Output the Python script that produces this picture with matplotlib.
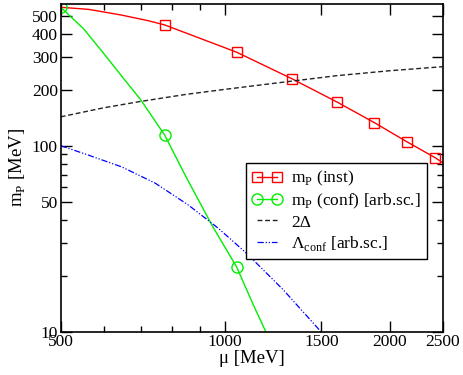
import matplotlib
matplotlib.use("Agg")
import matplotlib.pyplot as plt
from matplotlib.ticker import FixedLocator, NullFormatter

# m_P (inst): marker points and the curve through them
inst_mu = [775, 1050, 1325, 1600, 1875, 2150, 2425]
inst_m = [446, 318, 229, 172, 133, 105, 86]
inst_curve_mu = [500, 562, 646, 723, 775, 1050, 1325, 1600, 1875, 2150, 2425, 2500]
inst_curve_m = [555, 541, 504, 470, 446, 318, 229, 172, 133, 105, 86, 81]

# m_P (conf) [arb.sc.]
conf_mu = [500, 775, 1050]
conf_m = [555, 114, 22.2]
conf_curve_mu = [500, 550, 600, 650, 700, 775, 850, 950, 1050, 1125, 1200]
conf_curve_m = [555, 427, 312, 232, 177, 114, 67, 36.5, 22.2, 14, 9.3]

# 2 Delta
gap_mu = [500, 600, 700, 850, 1000, 1300, 1600, 2000, 2500]
gap_val = [143, 160, 173, 189, 201, 221, 238, 253, 266]

# Lambda_conf [arb.sc.]
lam_mu = [500, 562, 646, 744, 856, 971, 1094, 1277, 1479, 1500]
lam_val = [100, 89, 77, 63, 48, 36, 26.4, 16.8, 10.4, 9.9]

x_major = [500, 1000, 1500, 2000, 2500]
x_minor = [600, 700, 800, 900]
y_major = [10, 50, 100, 200, 300, 400, 500]
y_minor = [20, 30, 40, 60, 70, 80, 90]

plt.rcParams["font.family"] = ["Liberation Serif", "DejaVu Serif"]
plt.rcParams["mathtext.fontset"] = "custom"
plt.rcParams["mathtext.rm"] = "Liberation Serif"
plt.rcParams["font.size"] = 12.5

fig = plt.figure(figsize=(4.63, 3.75), dpi=100)
ax = fig.add_axes([60.7 / 463, (375 - 331.7) / 375, 382 / 463, 327.7 / 375])

red = "#ff0000"
green = "#00ee00"

ax.plot(inst_curve_mu, inst_curve_m, color=red, lw=1.0)
ax.plot(inst_mu, inst_m, ls="none", marker="s", ms=7.5, mfc="none", mec=red, mew=1.0)
ax.plot(conf_curve_mu, conf_curve_m, color=green, lw=1.0)
ax.plot(conf_mu, conf_m, ls="none", marker="o", ms=8, mfc="none", mec=green, mew=1.0)
ax.plot(gap_mu, gap_val, color="#222222", lw=1.0, dashes=(3.5, 2))
ax.plot(lam_mu, lam_val, color="#0000ff", lw=0.9, dashes=(5, 1.5, 1, 1.5, 1, 1.5))

# legend proxies
h1, = ax.plot([], [], color=red, lw=1.0, marker="s", ms=7.5, mfc="none", mec=red)
h2, = ax.plot([], [], color=green, lw=1.0, marker="o", ms=8, mfc="none", mec=green)
h3, = ax.plot([], [], color="#222222", lw=1.0, dashes=(3.5, 2))
h4, = ax.plot([], [], color="#0000ff", lw=0.9, dashes=(5, 1.5, 1, 1.5, 1, 1.5))
leg = ax.legend([h1, h2, h3, h4],
                [r"m$_\mathrm{P}$ (inst)", r"m$_\mathrm{P}$ (conf) [arb.sc.]",
                 "2Δ", r"Λ$_\mathrm{conf}$ [arb.sc.]"],
                loc="upper left", bbox_to_anchor=(0.485, 0.515), numpoints=2,
                fancybox=False, framealpha=1, edgecolor="black", borderaxespad=0,
                handlelength=1.75, handletextpad=0.5, labelspacing=0.2,
                borderpad=0.35, fontsize=12.5)
leg.get_frame().set_linewidth(1.0)

ax.set_xscale("log")
ax.set_yscale("log")
ax.set_xlim(500, 2500)
ax.set_ylim(10, 578)

ax.xaxis.set_major_locator(FixedLocator(x_major))
ax.xaxis.set_minor_locator(FixedLocator(x_minor))
ax.yaxis.set_major_locator(FixedLocator(y_major))
ax.yaxis.set_minor_locator(FixedLocator(y_minor))
ax.set_xticklabels([str(v) for v in x_major])
ax.set_yticklabels([str(v) for v in y_major])
ax.xaxis.set_minor_formatter(NullFormatter())
ax.yaxis.set_minor_formatter(NullFormatter())

ax.tick_params(which="both", direction="in", top=True, right=True, width=1.0, labelsize=12.5)
ax.tick_params(which="major", length=8, pad=2)
ax.tick_params(which="minor", length=4.5)
for s in ax.spines.values():
    s.set_linewidth(1.2)

ax.set_xlabel("μ [MeV]", fontsize=13.5, labelpad=0)
ax.set_ylabel(r"m$_\mathrm{P}$ [MeV]", fontsize=13.5, labelpad=3)

fig.savefig("out.png", dpi=100)
